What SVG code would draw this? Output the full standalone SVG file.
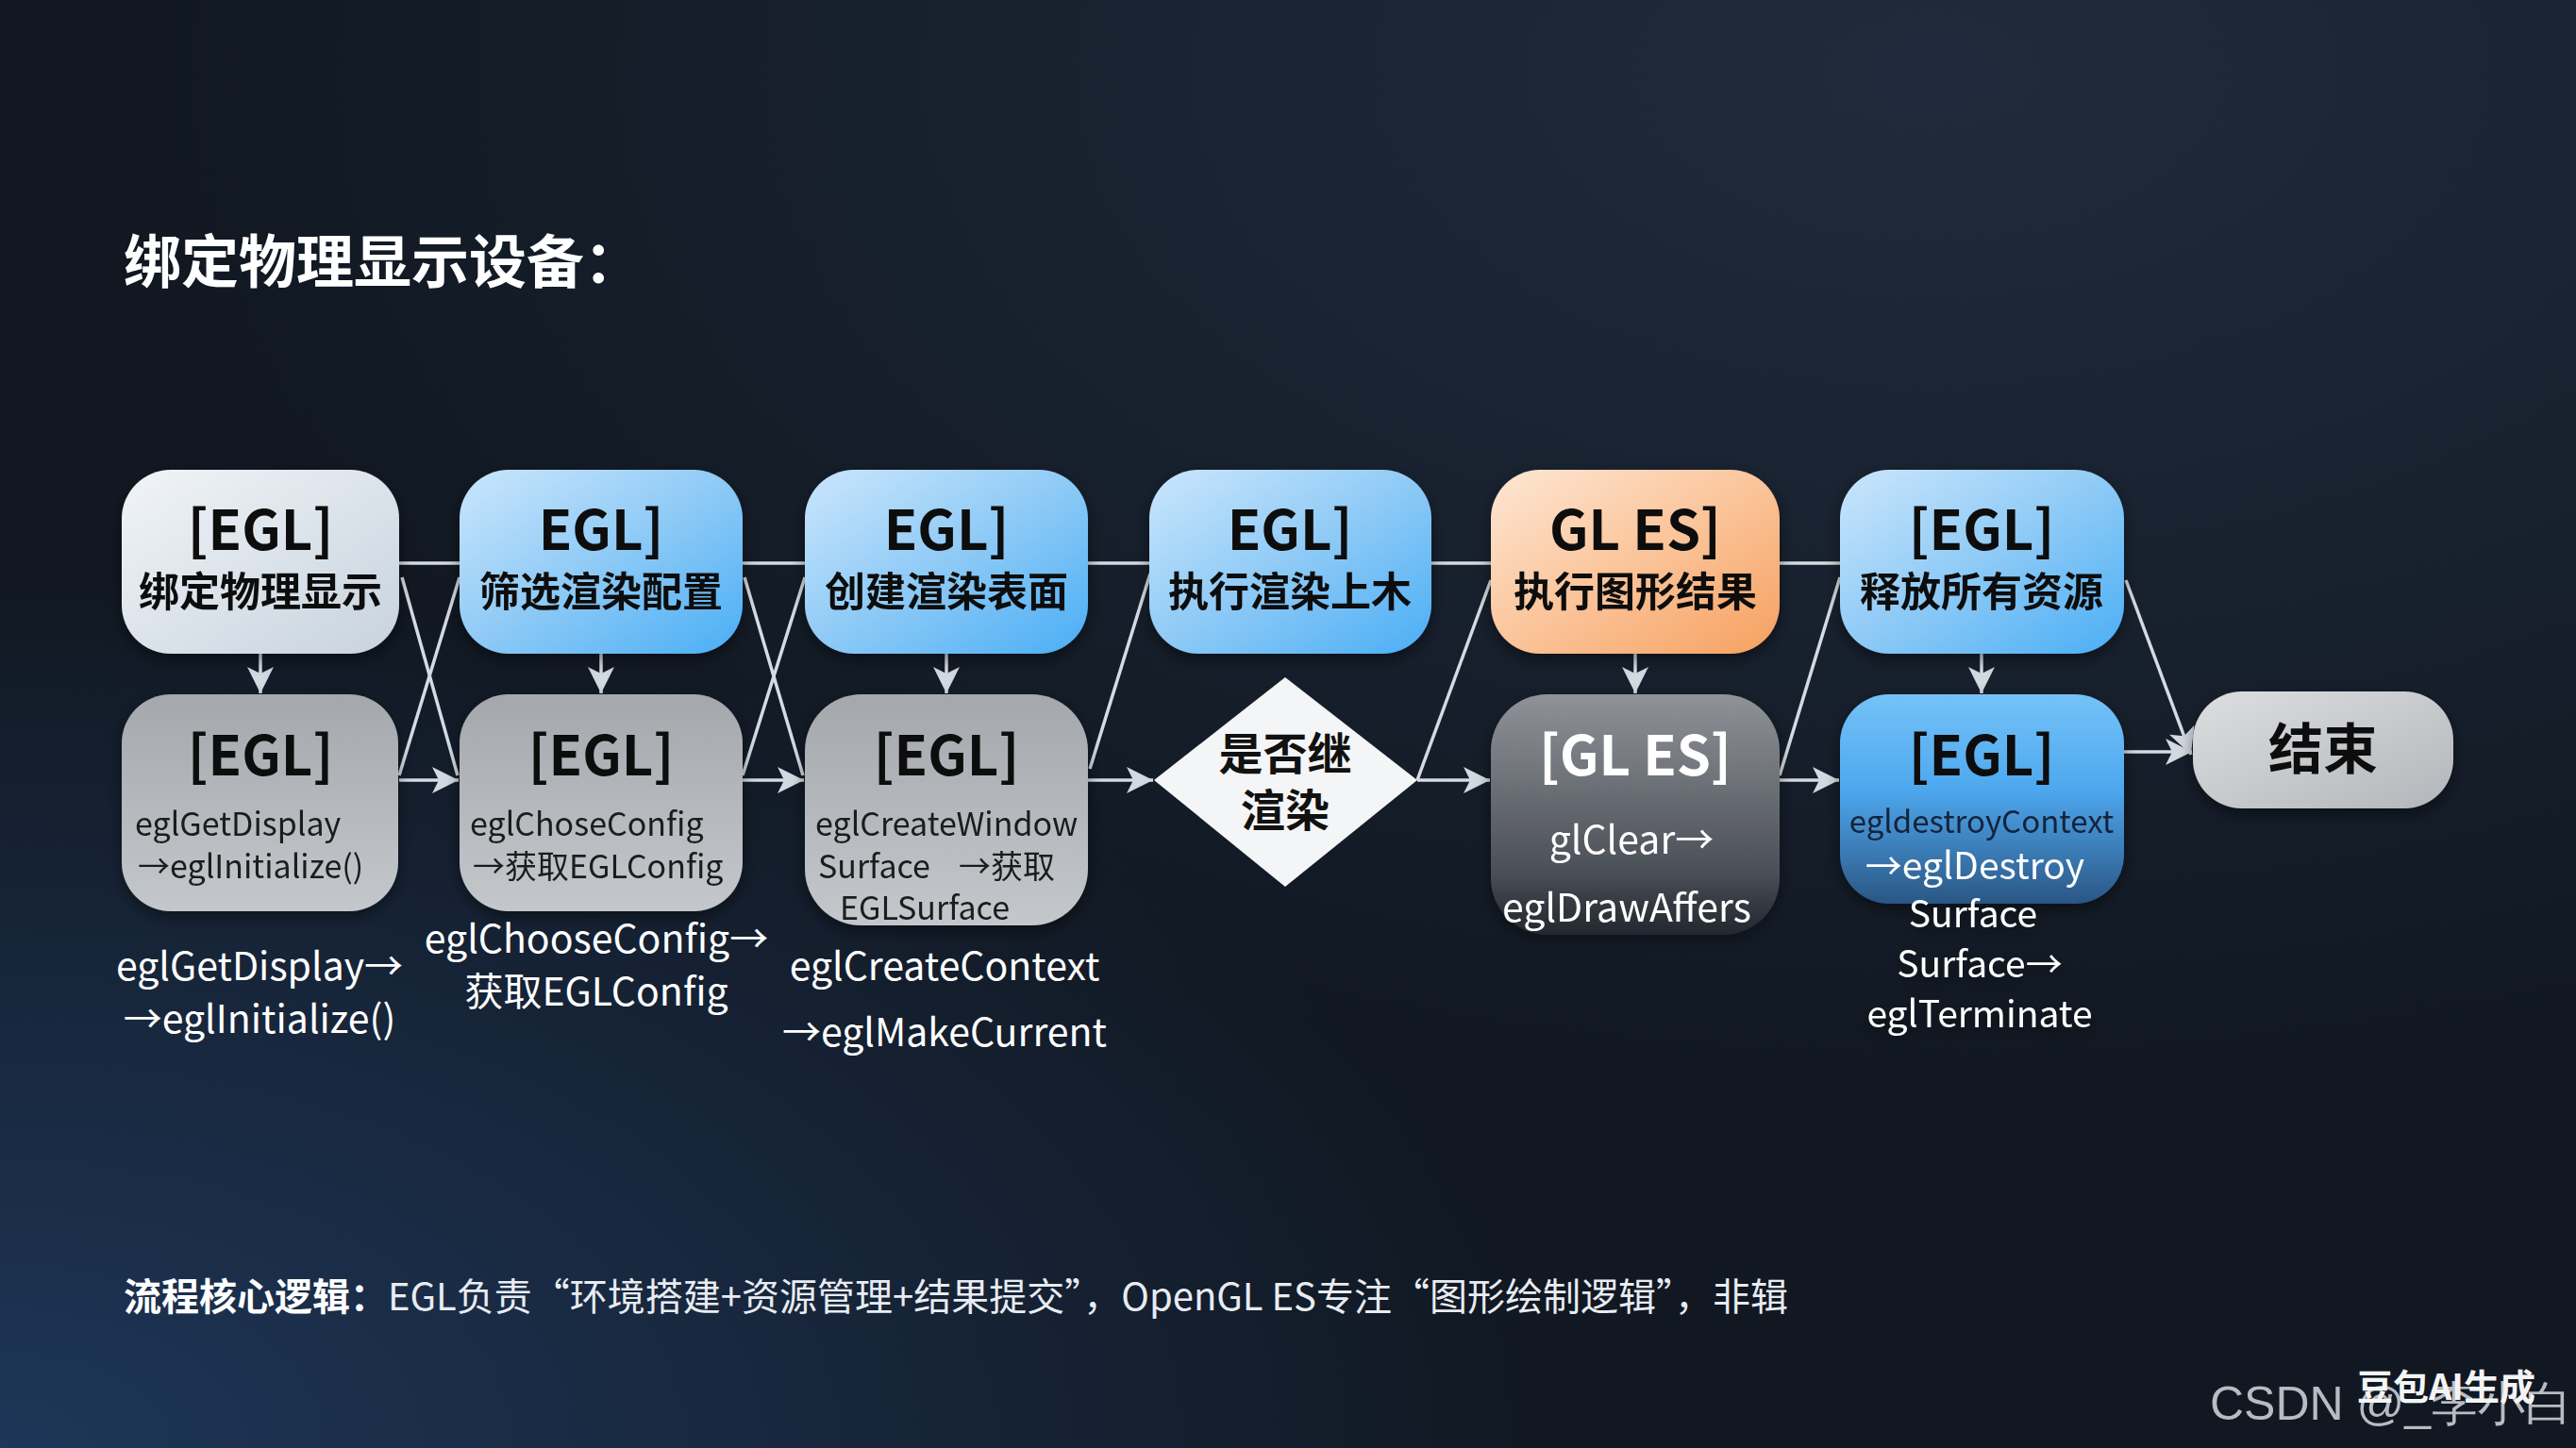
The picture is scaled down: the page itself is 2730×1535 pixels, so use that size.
<svg xmlns="http://www.w3.org/2000/svg" width="2730" height="1535" viewBox="0 0 2730 1535">
<defs>
<radialGradient id="bgTop" cx="0.75" cy="0.05" r="0.7">
<stop offset="0" stop-color="#1f2b3c"/>
<stop offset="1" stop-color="#1f2b3c" stop-opacity="0"/>
</radialGradient>
<radialGradient id="bgBL" cx="0.0" cy="1.0" r="0.6">
<stop offset="0" stop-color="#1e3658"/>
<stop offset="1" stop-color="#1e3658" stop-opacity="0"/>
</radialGradient>
<linearGradient id="gWhite" x1="0" y1="0" x2="1" y2="1">
<stop offset="0" stop-color="#f1f4f7"/>
<stop offset="1" stop-color="#c7d3de"/>
</linearGradient>
<linearGradient id="gBlue" x1="0" y1="0" x2="1" y2="1">
<stop offset="0" stop-color="#cbe6fc"/>
<stop offset="0.5" stop-color="#8ecaf6"/>
<stop offset="1" stop-color="#4aaef5"/>
</linearGradient>
<linearGradient id="gOrange" x1="0" y1="0" x2="1" y2="1">
<stop offset="0" stop-color="#fde7d4"/>
<stop offset="0.5" stop-color="#fbc49a"/>
<stop offset="1" stop-color="#f6a060"/>
</linearGradient>
<linearGradient id="gGray" x1="0" y1="0" x2="0" y2="1">
<stop offset="0" stop-color="#a4a8ad"/>
<stop offset="1" stop-color="#c4c7cb"/>
</linearGradient>
<linearGradient id="gDark" x1="0" y1="0" x2="0" y2="1">
<stop offset="0" stop-color="#8f9398"/>
<stop offset="0.75" stop-color="#4a4e56"/>
<stop offset="1" stop-color="#2e323a" stop-opacity="0.6"/>
</linearGradient>
<linearGradient id="gBlueDark" x1="0" y1="0" x2="0" y2="1">
<stop offset="0" stop-color="#74c2f7"/>
<stop offset="0.45" stop-color="#4ea8ef"/>
<stop offset="1" stop-color="#2a5684"/>
</linearGradient>
<linearGradient id="gEnd" x1="0" y1="0" x2="1" y2="1">
<stop offset="0" stop-color="#dcdee0"/>
<stop offset="1" stop-color="#b3b6ba"/>
</linearGradient>
<filter id="sh" x="-20%" y="-20%" width="140%" height="140%">
<feDropShadow dx="0" dy="6" stdDeviation="8" flood-color="#000" flood-opacity="0.45"/>
</filter>
<marker id="ah" markerUnits="userSpaceOnUse" markerWidth="30" markerHeight="30" refX="28" refY="15" orient="auto">
<path d="M0,1 L28,15 L0,29 L7,15 Z" fill="#d3d9e0"/>
</marker>
</defs>
<style>
text{font-family:"Noto Sans CJK SC","Noto Sans",sans-serif;}
.h{font-size:58px;font-weight:700;fill:#111;text-anchor:middle;}
.c{font-size:43px;font-weight:700;fill:#111;text-anchor:middle;}
.s{font-size:34px;fill:#1a1a1a;}
.w{font-size:41px;fill:#ffffff;text-anchor:middle;}
.line{stroke:#d5dbe2;stroke-width:3.5;fill:none;}
.arr{stroke:#d5dbe2;stroke-width:3.5;fill:none;marker-end:url(#ah);}
</style>
<rect x="0" y="0" width="2730" height="1535" fill="#111822"/>
<rect x="0" y="0" width="2730" height="1535" fill="url(#bgTop)"/>
<rect x="0" y="0" width="2730" height="1535" fill="url(#bgBL)"/>

<text x="131" y="300" style="font-size:61px;font-weight:700;fill:#fff;">绑定物理显示设备：</text>

<g id="connectors">
<line class="line" x1="423" y1="597" x2="487" y2="597"/>
<line class="line" x1="787" y1="597" x2="853" y2="597"/>
<line class="line" x1="1153" y1="597" x2="1218" y2="597"/>
<line class="line" x1="1517" y1="597" x2="1580" y2="597"/>
<line class="line" x1="1886" y1="597" x2="1950" y2="597"/>
<line class="arr" x1="276" y1="693" x2="276" y2="735"/>
<line class="arr" x1="637" y1="693" x2="637" y2="735"/>
<line class="arr" x1="1003" y1="693" x2="1003" y2="735"/>
<line class="arr" x1="1733" y1="693" x2="1733" y2="735"/>
<line class="arr" x1="2100" y1="693" x2="2100" y2="735"/>
<line class="line" x1="426" y1="612" x2="485" y2="822"/>
<line class="line" x1="423" y1="822" x2="487" y2="612"/>
<line class="line" x1="789" y1="612" x2="851" y2="822"/>
<line class="line" x1="787" y1="822" x2="853" y2="612"/>
<line class="line" x1="1155" y1="815" x2="1219" y2="608"/>
<line class="line" x1="1502" y1="827" x2="1580" y2="615"/>
<line class="line" x1="1886" y1="822" x2="1950" y2="612"/>
<line class="arr" x1="423" y1="827" x2="486" y2="827"/>
<line class="arr" x1="787" y1="827" x2="852" y2="827"/>
<line class="arr" x1="1153" y1="827" x2="1222" y2="827"/>
<line class="arr" x1="1502" y1="827" x2="1579" y2="827"/>
<line class="arr" x1="1886" y1="827" x2="1949" y2="827"/>
<line class="arr" x1="2253" y1="615" x2="2322" y2="800"/>
<line class="arr" x1="2251" y1="797" x2="2323" y2="797"/>
</g>

<g id="n1" filter="url(#sh)">
<rect x="129" y="498" width="294" height="195" rx="52" fill="url(#gWhite)"/>
<text class="h" x="276" y="583">[EGL]</text>
<text class="c" x="276" y="643">绑定物理显示</text>
</g>
<g id="n2" filter="url(#sh)">
<rect x="487" y="498" width="300" height="195" rx="52" fill="url(#gBlue)"/>
<text class="h" x="637" y="583">EGL]</text>
<text class="c" x="637" y="643">筛选渲染配置</text>
</g>
<g id="n3" filter="url(#sh)">
<rect x="853" y="498" width="300" height="195" rx="52" fill="url(#gBlue)"/>
<text class="h" x="1003" y="583">EGL]</text>
<text class="c" x="1003" y="643">创建渲染表面</text>
</g>
<g id="n4" filter="url(#sh)">
<rect x="1218" y="498" width="299" height="195" rx="52" fill="url(#gBlue)"/>
<text class="h" x="1367" y="583">EGL]</text>
<text class="c" x="1367" y="643">执行渲染上木</text>
</g>
<g id="n5" filter="url(#sh)">
<rect x="1580" y="498" width="306" height="195" rx="52" fill="url(#gOrange)"/>
<text class="h" x="1733" y="583">GL ES]</text>
<text class="c" x="1733" y="643">执行图形结果</text>
</g>
<g id="n6" filter="url(#sh)">
<rect x="1950" y="498" width="301" height="195" rx="52" fill="url(#gBlue)"/>
<text class="h" x="2100" y="583">[EGL]</text>
<text class="c" x="2100" y="643">释放所有资源</text>
</g>

<g id="n1b" filter="url(#sh)">
<rect x="129" y="736" width="293" height="230" rx="52" fill="url(#gGray)"/>
<text class="h" x="276" y="822">[EGL]</text>
<text class="s" x="143" y="886">eglGetDisplay</text>
<text class="s" x="146" y="931">→eglInitialize()</text>
</g>
<g id="n2b" filter="url(#sh)">
<rect x="487" y="736" width="300" height="230" rx="52" fill="url(#gGray)"/>
<text class="h" x="637" y="822">[EGL]</text>
<text class="s" x="498" y="886">eglChoseConfig</text>
<text class="s" x="501" y="931">→获取EGLConfig</text>
</g>
<g id="n3b" filter="url(#sh)">
<rect x="853" y="736" width="300" height="245" rx="60" fill="url(#gGray)"/>
<text class="h" x="1003" y="822">[EGL]</text>
<text class="s" x="864" y="886">eglCreateWindow</text>
<text class="s" x="867" y="931">Surface<tspan dx="30">→获取</tspan></text>
<text class="s" x="890" y="975">EGLSurface</text>
</g>
<g id="n4b">
<polygon points="1362,718 1502,827 1362,940 1223,827" fill="#f4f5f6"/>
<text class="c" x="1362" y="816" style="font-size:47px;">是否继</text>
<text class="c" x="1362" y="876" style="font-size:47px;">渲染</text>
</g>
<g id="n5b" filter="url(#sh)">
<rect x="1580" y="736" width="306" height="255" rx="60" fill="url(#gDark)"/>
<text class="h" x="1733" y="822" style="fill:#fff;">[GL ES]</text>
<text class="w" x="1729" y="905">glClear→</text>
<text class="w" x="1724" y="977">eglDrawAffers</text>
</g>
<g id="n6b" filter="url(#sh)">
<rect x="1950" y="736" width="301" height="222" rx="52" fill="url(#gBlueDark)"/>
<text class="h" x="2100" y="822">[EGL]</text>
<text class="s" x="2100" y="883" style="text-anchor:middle;fill:#12233a;font-size:33px;">egldestroyContext</text>
<text class="w" x="2093" y="932" style="font-size:39px;">→eglDestroy</text>
<text class="w" x="2091" y="983" style="font-size:39px;">Surface</text>
<text class="w" x="2098" y="1036" style="font-size:39px;">Surface→</text>
<text class="w" x="2098" y="1089" style="font-size:39px;">eglTerminate</text>
</g>
<g id="end" filter="url(#sh)">
<rect x="2324" y="733" width="276" height="124" rx="52" fill="url(#gEnd)"/>
<text class="h" x="2462" y="815">结束</text>
</g>

<g id="notes">
<text class="w" x="275" y="1039">eglGetDisplay→</text>
<text class="w" x="275" y="1095">→eglInitialize()</text>
<text class="w" x="632" y="1010">eglChooseConfig→</text>
<text class="w" x="632" y="1066">获取EGLConfig</text>
<text class="w" x="1001" y="1039">eglCreateContext</text>
<text class="w" x="1001" y="1109">→eglMakeCurrent</text>
</g>

<text x="131" y="1389" style="font-size:40px;fill:#e8ecf2;"><tspan style="font-weight:700;fill:#fff;">流程核心逻辑：</tspan>EGL负责“环境搭建+资源管理+结果提交”，OpenGL ES专注“图形绘制逻辑”，非辑</text>

<text x="2342" y="1505" style="font-family:'Liberation Sans',sans-serif;font-size:50px;fill:#b8bcc2;">CSDN @_李小白</text>
<text x="2498" y="1484" style="font-size:38px;font-weight:700;fill:#f4f4f4;">豆包AI生成</text>
</svg>
